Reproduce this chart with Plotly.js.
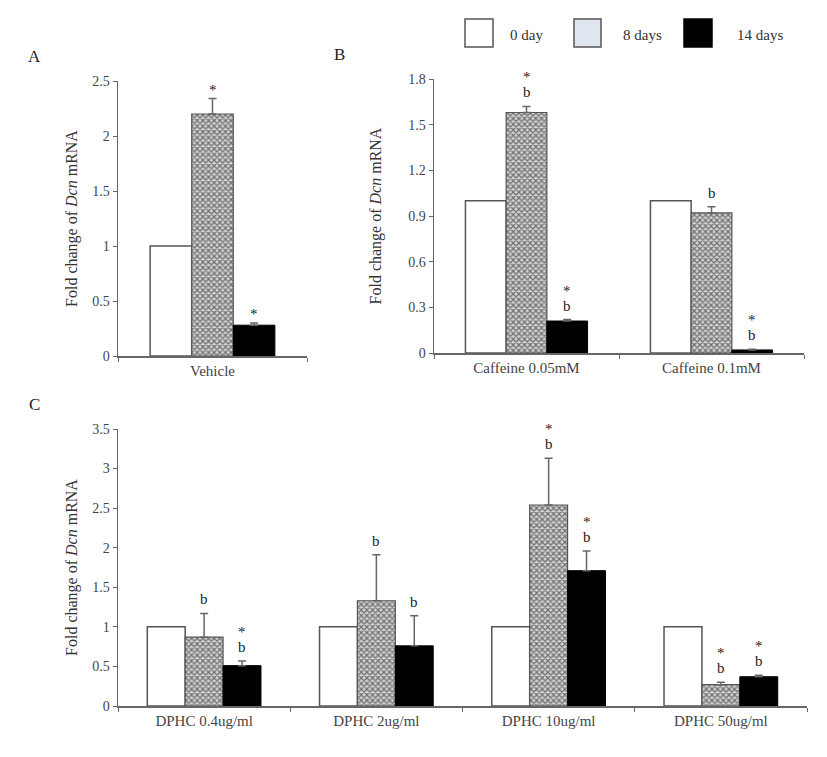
<!DOCTYPE html>
<html>
<head>
<meta charset="utf-8">
<script src="https://cdn.plot.ly/plotly-3.0.1.min.js"></script>
<style>html,body{margin:0;padding:0;background:#fff;}#chart{width:827px;height:757px;}</style>
</head>
<body>
<div id="chart"></div>
<script>
// ---- data ----
const seriesNames = ["0 day", "8 days", "14 days"];

const groupsA = ["Vehicle"];
const a_day0 = [1.0];
const a_day8 = [2.20];
const a_day8Err = [0.14];
const a_day14 = [0.28];
const a_day14Err = [0.02];
const a_marks8 = ["*"];
const a_marks14 = ["*"];

const groupsB = ["Caffeine 0.05mM", "Caffeine 0.1mM"];
const b_day0 = [1.0, 1.0];
const b_day8 = [1.58, 0.92];
const b_day8Err = [0.04, 0.04];
const b_day14 = [0.21, 0.02];
const b_day14Err = [0.01, 0.004];
const b_marks8 = ["*b", "b"];
const b_marks14 = ["*b", "*b"];

const groupsC = ["DPHC 0.4ug/ml", "DPHC 2ug/ml", "DPHC 10ug/ml", "DPHC 50ug/ml"];
const c_day0 = [1.0, 1.0, 1.0, 1.0];
const c_day8 = [0.87, 1.33, 2.54, 0.27];
const c_day8Err = [0.30, 0.58, 0.59, 0.03];
const c_day14 = [0.51, 0.76, 1.71, 0.37];
const c_day14Err = [0.06, 0.38, 0.25, 0.02];
const c_marks8 = ["b", "b", "*b", "*b"];
const c_marks14 = ["*b", "b", "*b", "*b"];

const yTitle = "Fold change of <i>Dcn</i> mRNA";

// ---- styles ----
const FONT = "Liberation Serif";
const W = 827, H = 757;
const px = v => v / W;
const py = v => 1 - v / H;

const styles = [
  {marker: {color: "#ffffff", line: {color: "#555", width: 1.5}}},
  {marker: {color: "#c8c8c8", line: {color: "#555", width: 1.2},
            pattern: {shape: "x", fgcolor: "#6e6e6e", bgcolor: "#d2d2d2", size: 4, solidity: 0.5}}},
  {marker: {color: "#000000", line: {color: "#000", width: 1}}}
];

function makeTraces(cats, d0, d8, e8, d14, e14, xa, ya) {
  const vals = [d0, d8, d14];
  const errs = [null, e8, e14];
  return vals.map((v, i) => {
    const t = {
      type: "bar", x: cats, y: v, name: seriesNames[i], xaxis: xa, yaxis: ya,
      showlegend: false, marker: styles[i].marker, hoverinfo: "y"
    };
    if (errs[i]) {
      t.error_y = {type: "data", symmetric: false, array: errs[i],
                   arrayminus: errs[i].map(() => 0), color: "#666", thickness: 1.5, width: 4};
    }
    return t;
  });
}

const traces = [
  ...makeTraces(groupsA, a_day0, a_day8, a_day8Err, a_day14, a_day14Err, "x", "y"),
  ...makeTraces(groupsB, b_day0, b_day8, b_day8Err, b_day14, b_day14Err, "x2", "y2"),
  ...makeTraces(groupsC, c_day0, c_day8, c_day8Err, c_day14, c_day14Err, "x3", "y3")
];

// significance annotations
const annotations = [];
const BARW = 0.22;
const markFont = {family: FONT, size: 15, color: "#222222"};
function addMarks(marks, vals, errs, seriesIdx, xa, ya) {
  marks.forEach((m, g) => {
    if (!m) return;
    const xpos = g + (seriesIdx - 1) * BARW;
    const top = vals[g] + errs[g];
    const hasB = m.indexOf("b") >= 0;
    const hasStar = m.indexOf("*") >= 0;
    if (hasB) {
      annotations.push({x: xpos, y: top, xref: xa, yref: ya, text: "b", showarrow: false,
        yanchor: "middle", yshift: 14, font: markFont});
    }
    if (hasStar) {
      annotations.push({x: xpos, y: top, xref: xa, yref: ya, text: "*", showarrow: false,
        yanchor: "middle", yshift: hasB ? 29 : 9, font: markFont});
    }
  });
}
addMarks(a_marks8, a_day8, a_day8Err, 1, "x", "y");
addMarks(a_marks14, a_day14, a_day14Err, 2, "x", "y");
addMarks(b_marks8, b_day8, b_day8Err, 1, "x2", "y2");
addMarks(b_marks14, b_day14, b_day14Err, 2, "x2", "y2");
addMarks(c_marks8, c_day8, c_day8Err, 1, "x3", "y3");
addMarks(c_marks14, c_day14, c_day14Err, 2, "x3", "y3");

// panel letters
[["A", 34, 57], ["B", 339, 55], ["C", 34, 405]].forEach(([t, x, y]) => {
  annotations.push({text: t, x: px(x), y: py(y), xref: "paper", yref: "paper", showarrow: false,
    xanchor: "center", yanchor: "middle", font: {family: FONT, size: 17, color: "#222"}});
});

// legend (drawn with shapes + text)
const shapes = [];
const legendBoxes = [[465, 493], [574, 601], [684, 712]];
const legendFill = ["#ffffff", "#dfe6ef", "#000000"];
const legendLine = ["#555", "#555", "#000"];
const legendTextX = [526, 642, 760];
legendBoxes.forEach(([x0, x1], i) => {
  shapes.push({type: "rect", xref: "paper", yref: "paper", x0: px(x0), x1: px(x1), y0: py(47), y1: py(19),
    fillcolor: legendFill[i], line: {color: legendLine[i], width: 1.5}});
  annotations.push({text: seriesNames[i], x: px(legendTextX[i]), y: py(35), xref: "paper", yref: "paper",
    showarrow: false, xanchor: "center", yanchor: "middle", font: {family: FONT, size: 15, color: "#333"}});
});

const tickFont = {family: FONT, size: 14, color: "#444"};
function yAx(domain, range, dtick, anchor, standoff) {
  return {domain, range, dtick, anchor, showline: true, linecolor: "#666", linewidth: 1.5,
    ticks: "outside", ticklen: 4, tickcolor: "#666", showgrid: false, zeroline: false, tickfont: tickFont,
    title: {text: yTitle, font: {family: FONT, size: 16, color: "#333"}, standoff}, fixedrange: true};
}
function xAx(domain, anchor) {
  return {domain, anchor, type: "category", tickson: "boundaries", showline: true, linecolor: "#666",
    linewidth: 1.5, ticks: "outside", ticklen: 4, tickcolor: "#666", showgrid: false, zeroline: false,
    tickfont: {family: FONT, size: 15, color: "#444"}, fixedrange: true};
}

const layout = {
  width: W, height: H, margin: {l: 0, r: 0, t: 0, b: 0},
  paper_bgcolor: "#fff", plot_bgcolor: "#fff",
  barmode: "group", bargap: 0.34, bargroupgap: 0,
  xaxis: xAx([px(118), px(307)], "y"),
  yaxis: yAx([py(356), py(81)], [0, 2.5], 0.5, "x", 10),
  xaxis2: xAx([px(434), px(804)], "y2"),
  yaxis2: yAx([py(353), py(79)], [0, 1.8], 0.3, "x2", 22),
  xaxis3: xAx([px(118), px(807)], "y3"),
  yaxis3: yAx([py(706), py(429)], [0, 3.5], 0.5, "x3", 10),
  annotations, shapes, showlegend: false
};

Plotly.newPlot("chart", traces, layout, {displayModeBar: false, staticPlot: true});
</script>
</body>
</html>
